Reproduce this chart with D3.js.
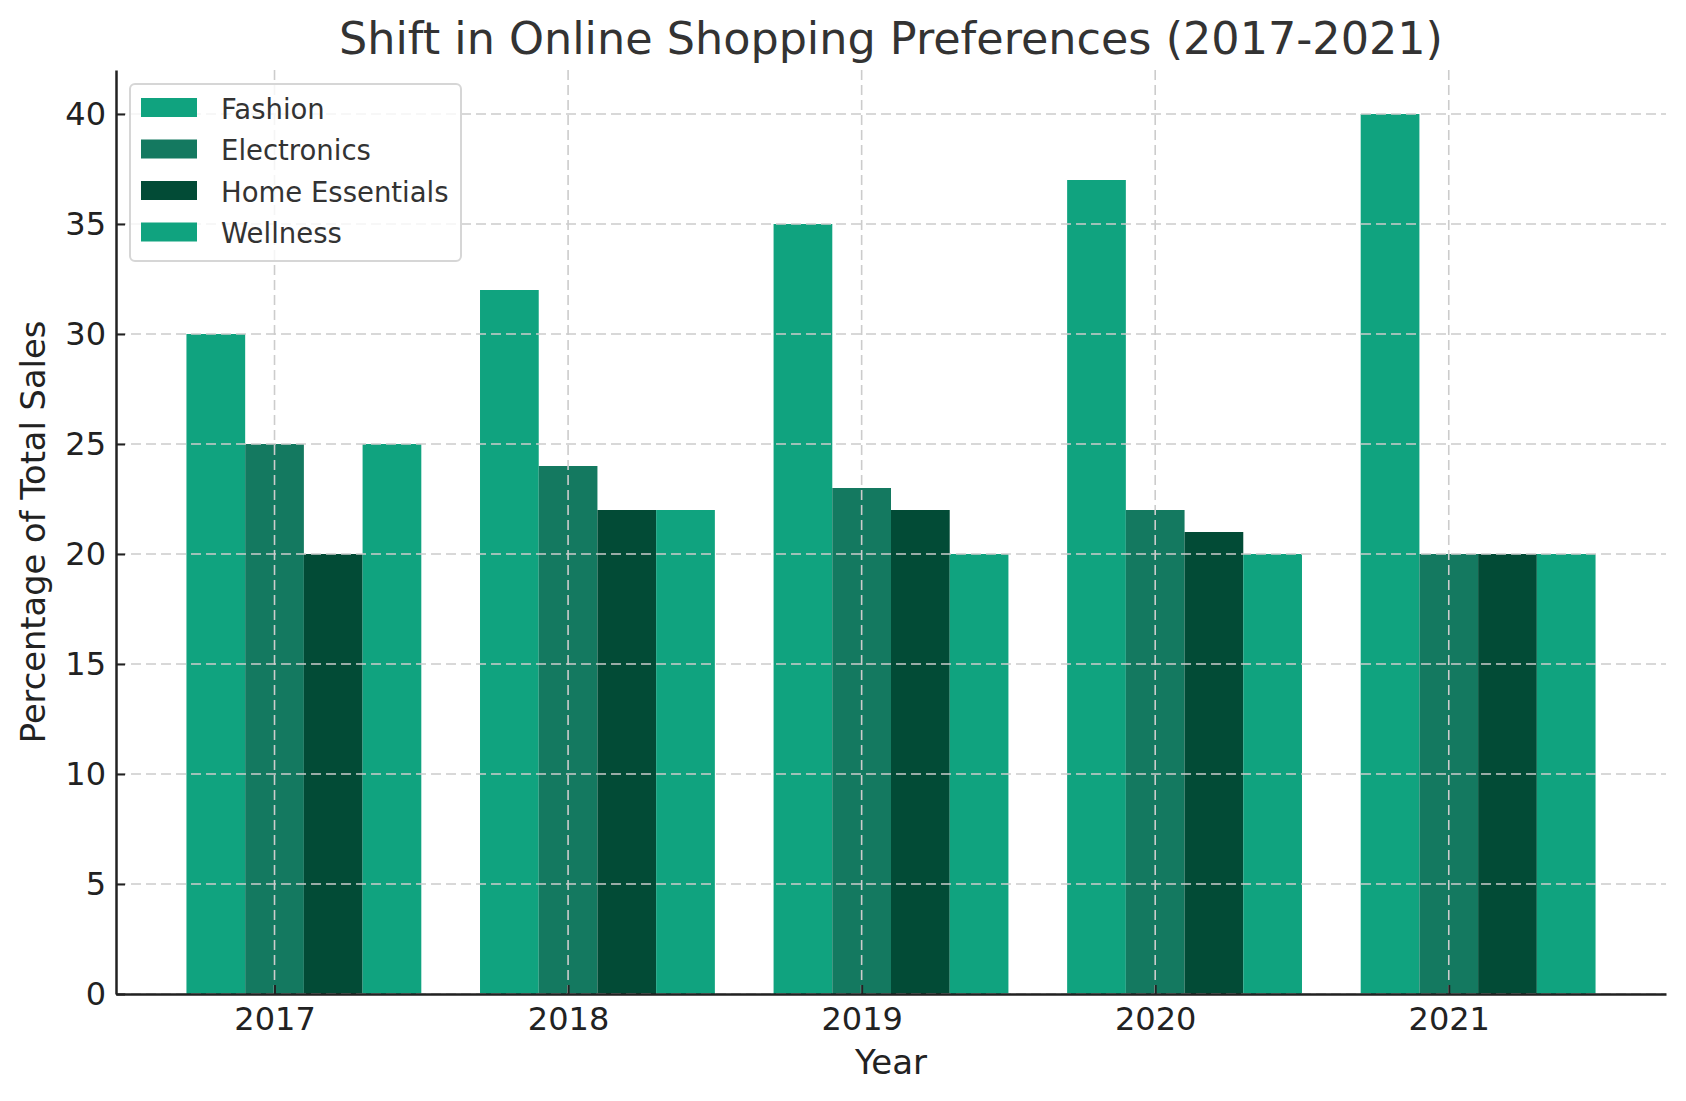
<!DOCTYPE html>
<html><head><meta charset="utf-8">
<script src="https://cdn.jsdelivr.net/npm/d3@7"></script>
<style>html,body{margin:0;padding:0;background:#fff;}svg{display:block;font-family:"DejaVu Sans",sans-serif;}</style>
</head><body>
<script>
const years = ["2017","2018","2019","2020","2021"];
const seriesNames = ["Fashion","Electronics","Home Essentials","Wellness"];
const fashion = [30,32,35,37,40];
const electronics = [25,24,23,22,20];
const homeEssentials = [20,22,22,21,20];
const wellness = [25,22,20,20,20];
const colors = ["#10a37f","#147960","#024b36","#10a37f"];
const yTicks = [0,5,10,15,20,25,30,35,40];
const seriesValues = [fashion, electronics, homeEssentials, wellness];

const W = 1686, H = 1101;
const L = 116, R = 1666, T = 70, B = 994;
const svg = d3.select("body").append("svg").attr("width",W).attr("height",H);

const barW = 0.2;
const x = d3.scaleLinear().domain([-0.54, 4.74]).range([L,R]);
const y = d3.scaleLinear().domain([0,42]).range([B,T]);
const offsets = [-1,0,1,2];

// bars
seriesValues.forEach((vals,si)=>{
  svg.append("g").selectAll("rect").data(vals).join("rect")
    .attr("x",(d,i)=>x(i+offsets[si]*barW-barW/2))
    .attr("width",(d,i)=>x(i+offsets[si]*barW+barW/2)-x(i+offsets[si]*barW-barW/2))
    .attr("y",d=>y(d)).attr("height",d=>y(0)-y(d))
    .attr("fill",colors[si]);
});

// grid (above bars)
const grid = svg.append("g");
grid.selectAll("line.h").data(yTicks).join("line")
  .attr("x1",L).attr("x2",R).attr("y1",d=>y(d)).attr("y2",d=>y(d))
  .attr("stroke","#cccccc").attr("stroke-width",1.6).attr("stroke-dasharray","10,5");
grid.selectAll("line.v").data(years).join("line")
  .attr("x1",(d,i)=>x(i)).attr("x2",(d,i)=>x(i)).attr("y1",T).attr("y2",B)
  .attr("stroke","#cccccc").attr("stroke-width",1.6).attr("stroke-dasharray","10,5");

// axes
const xAxis = d3.axisBottom(x).tickValues(d3.range(years.length)).tickFormat(i=>years[i]).tickSizeInner(-9).tickSizeOuter(0).tickPadding(13);
const gx = svg.append("g").attr("transform",`translate(0,${B})`).call(xAxis);
gx.select(".domain").attr("stroke","#222").attr("stroke-width",2.5);
gx.selectAll(".tick line").attr("stroke","#222").attr("stroke-width",2);
gx.selectAll(".tick text").attr("font-size",32).attr("fill","#222").attr("font-family","DejaVu Sans");

const yAxis = d3.axisLeft(y).tickValues(yTicks).tickSizeInner(-9).tickSizeOuter(0).tickPadding(10);
const gy = svg.append("g").attr("transform",`translate(${L},0)`).call(yAxis);
gy.select(".domain").attr("stroke","#222").attr("stroke-width",2.5);
gy.selectAll(".tick line").attr("stroke","#222").attr("stroke-width",2);
gy.selectAll(".tick text").attr("font-size",32).attr("fill","#222").attr("font-family","DejaVu Sans");

// title & labels
svg.append("text").attr("x",(L+R)/2).attr("y",54).attr("text-anchor","middle")
  .attr("font-size",44.5).attr("fill","#333").text("Shift in Online Shopping Preferences (2017-2021)");
svg.append("text").attr("x",(L+R)/2).attr("y",1074).attr("text-anchor","middle")
  .attr("font-size",34).attr("fill","#222").text("Year");
svg.append("text").attr("transform",`translate(45,${(T+B)/2}) rotate(-90)`).attr("text-anchor","middle")
  .attr("font-size",33.7).attr("fill","#222").text("Percentage of Total Sales");

// legend
const lg = svg.append("g");
lg.append("rect").attr("x",130).attr("y",84).attr("width",331).attr("height",177).attr("rx",5)
  .attr("fill","#fff").attr("fill-opacity",0.8).attr("stroke","#d6d6d6").attr("stroke-width",2);
seriesNames.forEach((n,i)=>{
  lg.append("rect").attr("x",141).attr("y",98+i*41.5).attr("width",56).attr("height",19).attr("fill",colors[i]);
  lg.append("text").attr("x",221).attr("y",118.5+i*41.5).attr("font-size",27.5).attr("fill","#333").text(n);
});
</script>
</body></html>
